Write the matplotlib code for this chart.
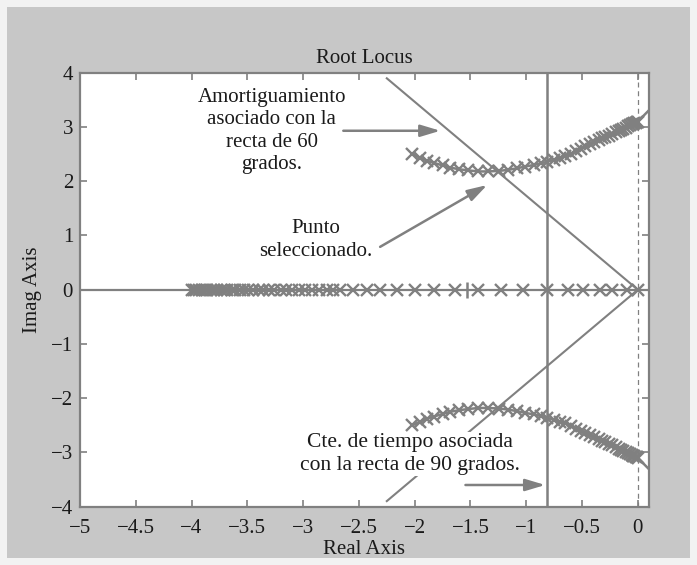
import matplotlib
matplotlib.use("Agg")
import matplotlib.pyplot as plt
from matplotlib.patches import Rectangle

plt.rcParams['font.family'] = ['Liberation Serif', 'DejaVu Serif']

# Closed-loop pole positions on the real-axis branch
real_branch = [-4.00, -3.98, -3.96, -3.935, -3.91, -3.88, -3.86, -3.83, -3.80, -3.77,
               -3.74, -3.71, -3.68, -3.64, -3.61, -3.57, -3.53, -3.49, -3.45, -3.40,
               -3.36, -3.31, -3.26, -3.20, -3.15, -3.10, -3.04, -2.98, -2.92, -2.86,
               -2.79, -2.73, -2.67, -2.55, -2.43, -2.31, -2.155, -2.00, -1.83, -1.635,
               -1.43, -1.23, -1.025, -0.81, -0.63, -0.487, -0.343, -0.227, -0.10, 0.0]

# Complex branch (upper half-plane)
upper_re = [-2.02, -1.95, -1.89, -1.83, -1.75, -1.68, -1.60, -1.52, -1.43, -1.34,
            -1.245, -1.16, -1.08, -1.01, -0.93, -0.87, -0.81, -0.75, -0.70, -0.65,
            -0.60, -0.55, -0.51, -0.47, -0.43, -0.39, -0.35, -0.32, -0.29, -0.26,
            -0.23, -0.20, -0.17, -0.15, -0.13, -0.11, -0.09, -0.07, -0.05, -0.04,
            -0.03, -0.02, -0.01, 0.00]
upper_im = [2.50, 2.43, 2.38, 2.34, 2.29, 2.25, 2.22, 2.20, 2.18, 2.18,
            2.19, 2.21, 2.24, 2.27, 2.30, 2.33, 2.36, 2.40, 2.43, 2.46,
            2.51, 2.56, 2.60, 2.64, 2.68, 2.72, 2.76, 2.79, 2.81, 2.84,
            2.87, 2.90, 2.93, 2.95, 2.97, 2.99, 3.01, 3.03, 3.05, 3.06,
            3.07, 3.08, 3.09, 3.10]
upper_tail_re = [0.00, 0.12]
upper_tail_im = [3.10, 3.35]

# Complex branch (lower half-plane, conjugate)
lower_re = upper_re
lower_im = [-2.50, -2.43, -2.38, -2.34, -2.29, -2.25, -2.22, -2.20, -2.18, -2.18,
            -2.19, -2.21, -2.24, -2.27, -2.30, -2.33, -2.36, -2.40, -2.43, -2.46,
            -2.51, -2.56, -2.60, -2.64, -2.68, -2.72, -2.76, -2.79, -2.81, -2.84,
            -2.87, -2.90, -2.93, -2.95, -2.97, -2.99, -3.01, -3.03, -3.05, -3.06,
            -3.07, -3.08, -3.09, -3.10]
lower_tail_re = [0.00, 0.12]
lower_tail_im = [-3.10, -3.35]

# Damping lines (60 degrees) and time-constant line
damping_upper_re = [-2.25, 0.0]
damping_upper_im = [3.897, 0.0]
damping_lower_re = [-2.25, 0.0]
damping_lower_im = [-3.897, 0.0]
time_const_re = -0.81
centroid_re = -1.53

xticks = [-5, -4.5, -4, -3.5, -3, -2.5, -2, -1.5, -1, -0.5, 0]
xticklabels = ['\u22125', '\u22124.5', '\u22124', '\u22123.5', '\u22123', '\u22122.5',
               '\u22122', '\u22121.5', '\u22121', '\u22120.5', '0']
yticks = [-4, -3, -2, -1, 0, 1, 2, 3, 4]
yticklabels = ['\u22124', '\u22123', '\u22122', '\u22121', '0', '1', '2', '3', '4']

GRAY = '#808080'
TXT = '#1a1a1a'
FS = 15

fig = plt.figure(figsize=(6.97, 5.65), dpi=100)
fig.patch.set_facecolor('#f2f2f2')
fig.add_artist(Rectangle((0.010, 0.0124), 0.980, 0.975, transform=fig.transFigure,
                         facecolor='#c7c7c7', edgecolor='none', zorder=0))

ax = fig.add_axes([0.1148, 0.1032, 0.8163, 0.7681])
ax.set_facecolor('white')
ax.set_xlim(-5, 0.1)
ax.set_ylim(-4, 4)

# reference axes
ax.axhline(0, color=GRAY, lw=1.6, zorder=1)
ax.axvline(0, color=GRAY, lw=0.9, ls=(0, (4, 3)), zorder=1)
ax.axvline(time_const_re, color=GRAY, lw=1.8, zorder=1)

# damping lines
ax.plot(damping_upper_re, damping_upper_im, color=GRAY, lw=1.5, zorder=1)
ax.plot(damping_lower_re, damping_lower_im, color=GRAY, lw=1.5, zorder=1)

# locus branches
mk = dict(marker='x', markersize=8, markeredgewidth=1.7, color=GRAY)
ax.plot(real_branch, [0] * len(real_branch), ls='none', **mk)
ax.plot(upper_re, upper_im, lw=1.8, **mk)
ax.plot(lower_re, lower_im, lw=1.8, **mk)
ax.plot(upper_tail_re, upper_tail_im, color=GRAY, lw=1.8)
ax.plot(lower_tail_re, lower_tail_im, color=GRAY, lw=1.8)
ax.plot([centroid_re], [0], marker='|', markersize=12, markeredgewidth=1.8, color=GRAY)

# annotations
arrow = dict(arrowstyle='-|>,head_length=1.2,head_width=0.36', mutation_scale=10,
             lw=1.8, color=GRAY, shrinkA=0, shrinkB=0)
ax.text(-3.28, 2.93, 'Amortiguamiento\nasociado con la\nrecta de 60\ngrados.',
        ha='center', va='center', fontsize=FS, color=TXT, linespacing=1.25)
ax.annotate('', xy=(-1.77, 2.93), xytext=(-2.64, 2.93), arrowprops=arrow)

ax.text(-2.89, 0.92, 'Punto\nseleccionado.', ha='center', va='center',
        fontsize=FS, color=TXT, linespacing=1.25)
ax.annotate('', xy=(-1.35, 1.93), xytext=(-2.31, 0.79), arrowprops=arrow)

ax.text(-2.04, -3.03, 'Cte. de tiempo asociada\ncon la recta de 90 grados.',
        ha='center', va='center', fontsize=15.5, color=TXT, linespacing=1.25,
        zorder=3, bbox=dict(facecolor='white', edgecolor='none', pad=1))
ax.annotate('', xy=(-0.83, -3.60), xytext=(-1.545, -3.60), arrowprops=arrow)

# axes styling
for s in ax.spines.values():
    s.set_color(GRAY)
    s.set_linewidth(1.6)
ax.set_xticks(xticks)
ax.set_xticklabels(xticklabels)
ax.set_yticks(yticks)
ax.set_yticklabels(yticklabels)
ax.tick_params(direction='in', top=True, right=True, length=5, width=1.2,
               color=GRAY, labelcolor=TXT, labelsize=FS, pad=5)
ax.tick_params(axis='x', pad=9)

ax.set_title('Root Locus', fontsize=FS, color=TXT, pad=7)
ax.set_xlabel('Real Axis', fontsize=FS, color=TXT, labelpad=1.5)
ax.set_ylabel('Imag Axis', fontsize=FS, color=TXT, labelpad=6)

fig.savefig('out.png', dpi=100, facecolor=fig.get_facecolor())
